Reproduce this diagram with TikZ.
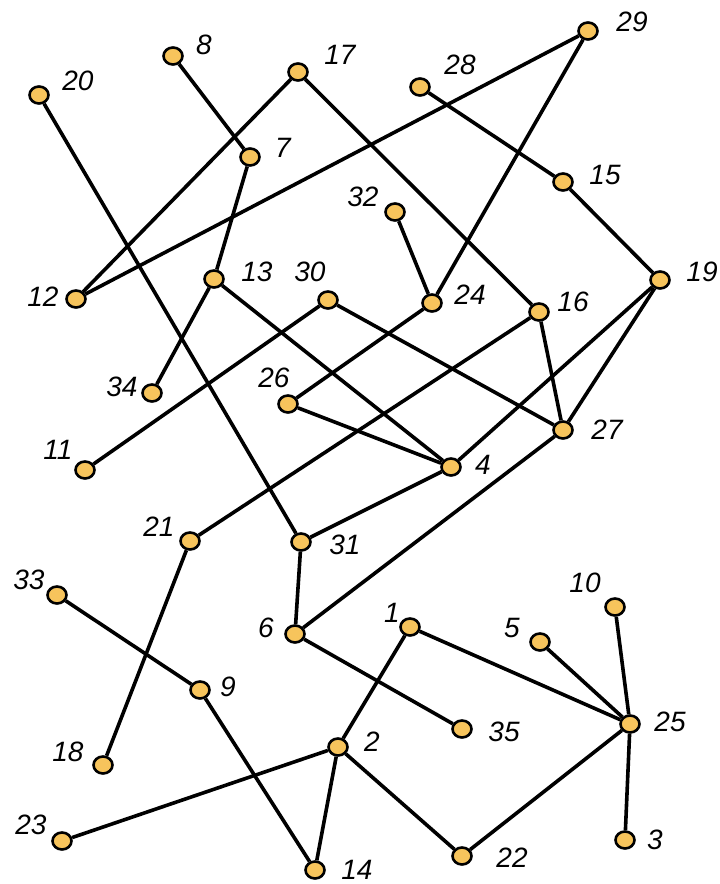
\documentclass[tikz,border=0pt]{standalone}
\usepackage{fontspec}
\setmainfont{Liberation Sans}
\usetikzlibrary{shapes.geometric}
\definecolor{nodefill}{RGB}{247,196,92}
\begin{document}
\begin{tikzpicture}[x=1pt,y=-1pt,
 vtx/.style={ellipse,draw=black,line width=2.6pt,fill=nodefill,minimum width=19pt,minimum height=17pt,inner sep=0pt},
 lbl/.style={font=\fontsize{28}{28}\selectfont\itshape,inner sep=0pt},
 edge/.style={line width=3.6pt,black}]
\useasboundingbox (0,0) rectangle (720,884);
% vertices
\node[vtx] (v1) at (410,627) {};
\node[vtx] (v2) at (338,747) {};
\node[vtx] (v3) at (625,840) {};
\node[vtx] (v4) at (451,467) {};
\node[vtx] (v5) at (540,642) {};
\node[vtx] (v6) at (295,634) {};
\node[vtx] (v7) at (250,157) {};
\node[vtx] (v8) at (173,56) {};
\node[vtx] (v9) at (200,690) {};
\node[vtx] (v10) at (615,607) {};
\node[vtx] (v11) at (85,470) {};
\node[vtx] (v12) at (76,299) {};
\node[vtx] (v13) at (214,279) {};
\node[vtx] (v14) at (315,870) {};
\node[vtx] (v15) at (563,182) {};
\node[vtx] (v16) at (539,312) {};
\node[vtx] (v17) at (298,72) {};
\node[vtx] (v18) at (103,765) {};
\node[vtx] (v19) at (660,280) {};
\node[vtx] (v20) at (39,95) {};
\node[vtx] (v21) at (190,541) {};
\node[vtx] (v22) at (462,856) {};
\node[vtx] (v23) at (62,841) {};
\node[vtx] (v24) at (432,303) {};
\node[vtx] (v25) at (630,724) {};
\node[vtx] (v26) at (288,404) {};
\node[vtx] (v27) at (563,430) {};
\node[vtx] (v28) at (420,87) {};
\node[vtx] (v29) at (588,31) {};
\node[vtx] (v30) at (328,300) {};
\node[vtx] (v31) at (301,542) {};
\node[vtx] (v32) at (395,212) {};
\node[vtx] (v33) at (57,595) {};
\node[vtx] (v34) at (152,393) {};
\node[vtx] (v35) at (462,729) {};
% labels
\node[lbl] (l1) at (392,613) {1};
\node[lbl] (l2) at (372,742) {2};
\node[lbl] (l3) at (655,840) {3};
\node[lbl] (l4) at (483,465) {4};
\node[lbl] (l5) at (512,628) {5};
\node[lbl] (l6) at (266,628) {6};
\node[lbl] (l7) at (283,148) {7};
\node[lbl] (l8) at (204,45) {8};
\node[lbl] (l9) at (228,687) {9};
\node[lbl] (l10) at (585,583) {10};
\node[lbl] (l11) at (58,450) {11};
\node[lbl] (l12) at (43,297) {12};
\node[lbl] (l13) at (257,272) {13};
\node[lbl] (l14) at (357,870) {14};
\node[lbl] (l15) at (605,175) {15};
\node[lbl] (l16) at (573,302) {16};
\node[lbl] (l17) at (340,55) {17};
\node[lbl] (l18) at (68,752) {18};
\node[lbl] (l19) at (702,272) {19};
\node[lbl] (l20) at (78,81) {20};
\node[lbl] (l21) at (159,527) {21};
\node[lbl] (l22) at (512,858) {22};
\node[lbl] (l23) at (31,825) {23};
\node[lbl] (l24) at (470,295) {24};
\node[lbl] (l25) at (670,722) {25};
\node[lbl] (l26) at (274,378) {26};
\node[lbl] (l27) at (607,430) {27};
\node[lbl] (l28) at (460,65) {28};
\node[lbl] (l29) at (632,22) {29};
\node[lbl] (l30) at (310,272) {30};
\node[lbl] (l31) at (345,545) {31};
\node[lbl] (l32) at (363,197) {32};
\node[lbl] (l33) at (29,580) {33};
\node[lbl] (l34) at (122,387) {34};
\node[lbl] (l35) at (504,732) {35};
% edges
\foreach \a/\b in {20/31,8/7,7/13,17/12,17/16,29/12,29/24,28/15,15/19,32/24,24/26,13/34,13/4,30/11,30/27,16/21,16/27,19/27,19/4,26/4,4/31,27/6,31/6,6/35,21/18,33/9,9/14,1/2,1/25,5/25,10/25,25/3,25/22,2/23,2/14,2/22}
  \draw[edge] (v\a) -- (v\b);
\end{tikzpicture}
\end{document}
